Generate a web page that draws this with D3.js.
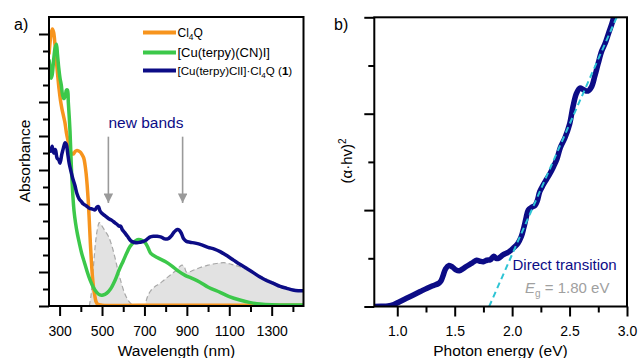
<!DOCTYPE html>
<html><head><meta charset="utf-8">
<script src="https://cdn.jsdelivr.net/npm/d3@7"></script>
<style>
body{margin:0;background:#fff}
svg{display:block;font-family:"Liberation Sans",Arial,sans-serif}
</style>
</head><body>
<svg id="c" width="638" height="358"></svg>
<script>
// ---------- Panel a data (wavelength nm, absorbance a.u.) ----------
const cl4qSeries = [[250,1.48],[255,1.55],[260,1.60],[266,1.63],[272,1.61],[278,1.54],[284,1.45],[290,1.37],[297,1.28],[304,1.21],[311,1.16],[318,1.12],[325,1.08],[332,1.02],[340,0.97],[349,0.92],[358,0.895],[366,0.895],[374,0.91],[382,0.915],[390,0.912],[398,0.905],[406,0.89],[414,0.87],[420,0.83],[425,0.78],[430,0.71],[435,0.62],[440,0.5],[445,0.37],[450,0.26],[455,0.17],[460,0.11],[466,0.06],[472,0.025],[480,0.01],[500,0.005],[800,0.005],[1450,0.005]];
const cuCNISeries = [[250,1.45],[255,1.40],[260,1.34],[265,1.36],[272,1.45],[279,1.52],[285,1.54],[290,1.48],[296,1.40],[302,1.34],[308,1.30],[314,1.24],[320,1.22],[326,1.23],[332,1.27],[337,1.27],[341,1.20],[345,1.12],[349,1.03],[353,0.9],[357,0.77],[362,0.66],[368,0.56],[375,0.49],[383,0.43],[393,0.37],[404,0.31],[416,0.26],[428,0.21],[443,0.155],[459,0.11],[475,0.08],[490,0.065],[505,0.065],[522,0.075],[540,0.1],[561,0.15],[580,0.21],[600,0.265],[616,0.31],[632,0.35],[650,0.375],[667,0.39],[680,0.39],[695,0.38],[705,0.37],[718,0.34],[730,0.31],[760,0.285],[800,0.26],[830,0.235],[860,0.205],[892,0.18],[920,0.165],[962,0.14],[1001,0.11],[1057,0.08],[1100,0.055],[1150,0.035],[1200,0.02],[1245,0.012],[1300,0.008],[1450,0.006]];
const compound1Series = [[250,0.93],[258,0.91],[265,0.94],[272,0.90],[280,0.92],[288,0.87],[296,0.86],[302,0.84],[310,0.89],[318,0.93],[326,0.96],[332,0.95],[338,0.90],[345,0.84],[354,0.79],[362,0.75],[372,0.71],[382,0.66],[392,0.63],[402,0.615],[412,0.60],[425,0.59],[440,0.575],[455,0.57],[467,0.565],[475,0.58],[483,0.585],[490,0.56],[499,0.545],[515,0.53],[530,0.515],[545,0.505],[560,0.49],[573,0.478],[580,0.47],[588,0.47],[595,0.45],[608,0.43],[620,0.41],[635,0.385],[650,0.375],[665,0.372],[680,0.375],[695,0.38],[710,0.39],[725,0.405],[742,0.41],[760,0.41],[780,0.405],[795,0.395],[810,0.395],[825,0.41],[840,0.435],[855,0.45],[865,0.445],[875,0.425],[885,0.395],[898,0.38],[915,0.375],[940,0.37],[970,0.36],[1000,0.345],[1030,0.335],[1057,0.32],[1090,0.295],[1120,0.27],[1150,0.245],[1183,0.22],[1215,0.195],[1245,0.17],[1275,0.15],[1308,0.133],[1340,0.115],[1371,0.104],[1400,0.094],[1425,0.09],[1450,0.09]];
const diffSeries = [[440,0],[448,0.06],[455,0.16],[462,0.27],[470,0.38],[478,0.45],[487,0.49],[495,0.48],[505,0.46],[515,0.44],[530,0.41],[545,0.36],[560,0.29],[575,0.21],[590,0.14],[605,0.08],[620,0.04],[635,0.015],[648,0],[700,0],[708,0.03],[716,0.06],[730,0.09],[750,0.115],[770,0.13],[790,0.15],[810,0.17],[830,0.19],[850,0.21],[865,0.23],[878,0.24],[888,0.23],[898,0.2],[910,0.2],[930,0.21],[960,0.225],[1000,0.24],[1040,0.25],[1075,0.255],[1110,0.245],[1140,0.235],[1180,0.215],[1214,0.2],[1250,0.175],[1293,0.15],[1330,0.125],[1371,0.104],[1400,0.094],[1434,0.085],[1450,0.083]];
const arrowWavelengths = [530, 880];
const arrowFrom = 0.996, arrowTo = 0.606;
const xTicksA = [300,500,700,900,1100,1300];
const xMinorA = [400,600,800,1000,1200,1400];
const yMajorA = [0,0.2,0.4,0.6,0.8,1.0,1.2,1.4,1.6];
const yMinorA = [0.1,0.3,0.5,0.7,0.9,1.1,1.3,1.5];

// ---------- Panel b data (photon energy eV, (alpha h nu)^2 a.u.) ----------
const taucSeries = [[0.80,0],[0.86,0.003],[0.92,0.01],[0.97,0.04],[1.02,0.1],[1.08,0.17],[1.14,0.24],[1.20,0.31],[1.26,0.38],[1.31,0.43],[1.36,0.48],[1.38,0.53],[1.40,0.65],[1.42,0.78],[1.45,0.85],[1.48,0.82],[1.51,0.76],[1.54,0.74],[1.57,0.78],[1.60,0.83],[1.65,0.9],[1.69,0.96],[1.72,0.94],[1.75,0.93],[1.78,0.96],[1.81,0.97],[1.84,1.04],[1.86,1.0],[1.88,1.0],[1.92,1.07],[1.97,1.13],[2.01,1.21],[2.05,1.31],[2.08,1.45],[2.10,1.62],[2.12,1.82],[2.14,2.0],[2.17,2.06],[2.20,2.1],[2.22,2.2],[2.24,2.38],[2.27,2.52],[2.30,2.64],[2.33,2.76],[2.36,2.9],[2.39,3.06],[2.42,3.3],[2.46,3.5],[2.50,3.78],[2.53,4.15],[2.56,4.42],[2.59,4.53],[2.62,4.5],[2.66,4.47],[2.69,4.55],[2.72,4.78],[2.75,5.05],[2.78,5.3],[2.81,5.46],[2.84,5.67],[2.87,5.88],[2.89,6.05]];
const fitLine = [[1.80,0],[2.91,6.0]];
const xTicksB = [1.0,1.5,2.0,2.5,3.0];
const xMinorB = [1.25,1.75,2.25,2.75];
const yMajorB = [0,2,4,6];
const yMinorB = [1,3,5];

const C = {orange:"#f7941d", green:"#3cc84a", navy:"#0c0c86", gray:"#9a9a9a", fill:"#e2e2e2", cyan:"#2ec4d4"};

const svg = d3.select("#c");
const defs = svg.append("defs");
defs.append("marker").attr("id","ah").attr("viewBox","0 0 10 10").attr("refX",10).attr("refY",5)
  .attr("markerWidth",6).attr("markerHeight",6).attr("markerUnits","strokeWidth").attr("orient","auto")
  .append("path").attr("d","M0,0L10,5L0,10Z").attr("fill",C.gray);

function frame(g, x, y){
  const [x0,x1]=x.range(), [y0,y1]=y.range();
  g.append("rect").attr("x",x0).attr("y",y1).attr("width",x1-x0).attr("height",y0-y1)
    .attr("fill","none").attr("stroke","#000").attr("stroke-width",2);
}
function axes(g, x, y, xt, xm, ym, yn){
  const [y0]=y.range(), [x0]=x.range();
  const ax = g.append("g").attr("transform",`translate(0,${y0})`)
    .call(d3.axisBottom(x).tickValues(xt).tickSize(10).tickPadding(10).tickFormat(d=>x.domain()[0]<10?d3.format(".1f")(d):d));
  ax.select(".domain").remove();
  ax.selectAll("line").attr("stroke-width",2);
  ax.selectAll("text").attr("font-size",14).attr("fill","#000").attr("font-family","Liberation Sans, Arial, sans-serif");
  const am = g.append("g").attr("transform",`translate(0,${y0})`).call(d3.axisBottom(x).tickValues(xm).tickSize(6).tickFormat(""));
  am.select(".domain").remove(); am.selectAll("line").attr("stroke-width",2);
  const ay = g.append("g").attr("transform",`translate(${x0},0)`).call(d3.axisLeft(y).tickValues(ym).tickSize(10).tickFormat(""));
  ay.select(".domain").remove(); ay.selectAll("line").attr("stroke-width",2);
  const an = g.append("g").attr("transform",`translate(${x0},0)`).call(d3.axisLeft(y).tickValues(yn).tickSize(6).tickFormat(""));
  an.select(".domain").remove(); an.selectAll("line").attr("stroke-width",2);
}

// ---------- Panel a ----------
const xA = d3.scaleLinear([250,1450],[49,303.5]);
const yA = d3.scaleLinear([0,1.7],[306,17]);
const gA = svg.append("g");
defs.append("clipPath").attr("id","clipA").append("rect").attr("x",49).attr("y",17).attr("width",254.5).attr("height",289);
const pA = gA.append("g").attr("clip-path","url(#clipA)");
const lineA = d3.line().x(d=>xA(d[0])).y(d=>yA(d[1])).curve(d3.curveCatmullRom);
pA.append("path").datum(diffSeries).attr("d",d3.area().x(d=>xA(d[0])).y0(yA(0)).y1(d=>yA(d[1])).curve(d3.curveCatmullRom)).attr("fill",C.fill);
pA.append("path").datum(diffSeries).attr("d",lineA).attr("fill","none").attr("stroke","#a8a8a8").attr("stroke-width",1.2).attr("stroke-dasharray","5,3");
arrowWavelengths.forEach(w=>{
  gA.append("line").attr("x1",xA(w)).attr("x2",xA(w)).attr("y1",yA(arrowFrom)).attr("y2",yA(arrowTo))
    .attr("stroke",C.gray).attr("stroke-width",1.6).attr("marker-end","url(#ah)");
});
pA.append("path").datum(cl4qSeries).attr("d",lineA).attr("fill","none").attr("stroke",C.orange).attr("stroke-width",3.5).attr("stroke-linejoin","round");
pA.append("path").datum(cuCNISeries).attr("d",lineA).attr("fill","none").attr("stroke",C.green).attr("stroke-width",3.5).attr("stroke-linejoin","round");
pA.append("path").datum(compound1Series).attr("d",lineA).attr("fill","none").attr("stroke",C.navy).attr("stroke-width",3.5).attr("stroke-linejoin","round");
frame(gA,xA,yA);
axes(gA,xA,yA,xTicksA,xMinorA,yMajorA,yMinorA);

// legend
const leg = gA.append("g");
const legItems = [
  {c:C.orange, y:32.5, fs:12, parts:[["Cl",""],["4","sub"],["Q",""]]},
  {c:C.green, y:52.5, fs:13, parts:[["[Cu(terpy)(CN)I]",""]]},
  {c:C.navy, y:70.5, fs:11.6, parts:[["[Cu(terpy)ClI]·Cl",""],["4","sub"],["Q (",""],["1","bold"],[")",""]]}
];
legItems.forEach(it=>{
  leg.append("line").attr("x1",143).attr("x2",176).attr("y1",it.y).attr("y2",it.y).attr("stroke",it.c).attr("stroke-width",4);
  const t = leg.append("text").attr("x",177.5).attr("y",it.y+4.5).attr("font-size",it.fs).attr("fill","#000");
  let sub=false;
  it.parts.forEach(p=>{
    const s = t.append("tspan").text(p[0]);
    if(p[1]==="sub"){ s.attr("font-size",it.fs*0.7).attr("dy",3); sub=true; }
    else { if(sub){ s.attr("dy",-3); sub=false; } if(p[1]==="bold") s.attr("font-weight","bold"); }
  });
});
gA.append("text").attr("x",146).attr("y",127.5).attr("text-anchor","middle").attr("font-size",15.5).attr("fill",C.navy).text("new bands");
gA.append("text").attr("x",14).attr("y",30).attr("font-size",16).text("a)");
gA.append("text").attr("transform","translate(30,161) rotate(-90)").attr("text-anchor","middle").attr("font-size",15.5).text("Absorbance");
gA.append("text").attr("x",176.5).attr("y",356).attr("text-anchor","middle").attr("font-size",15.5).text("Wavelength (nm)");

// ---------- Panel b ----------
const xB = d3.scaleLinear([0.8,3.0],[374.3,627]);
const yB = d3.scaleLinear([0,6],[306.5,17.3]);
const gB = svg.append("g");
defs.append("clipPath").attr("id","clipB").append("rect").attr("x",374.3).attr("y",17.3).attr("width",252.7).attr("height",289.2);
const pB = gB.append("g").attr("clip-path","url(#clipB)");
const lineB = d3.line().x(d=>xB(d[0])).y(d=>yB(d[1])).curve(d3.curveCatmullRom);
pB.append("path").datum(taucSeries).attr("d",lineB).attr("fill","none").attr("stroke",C.navy).attr("stroke-width",5.5).attr("stroke-linejoin","round").attr("stroke-linecap","round");
pB.append("path").datum(fitLine).attr("d",d3.line().x(d=>xB(d[0])).y(d=>yB(d[1]))).attr("fill","none").attr("stroke",C.cyan).attr("stroke-width",2).attr("stroke-dasharray","6,4");
frame(gB,xB,yB);
axes(gB,xB,yB,xTicksB,xMinorB,yMajorB,yMinorB);
gB.append("text").attr("x",334).attr("y",30).attr("font-size",16).text("b)");
const yl = gB.append("text").attr("transform","translate(352,161) rotate(-90)").attr("text-anchor","middle").attr("font-size",15);
yl.append("tspan").text("(α·hv)");
yl.append("tspan").attr("dy",-6).attr("font-size",10).text("2");
gB.append("text").attr("x",500.5).attr("y",356).attr("text-anchor","middle").attr("font-size",15.5).text("Photon energy (eV)");
gB.append("text").attr("x",512.5).attr("y",270).attr("font-size",15).attr("fill",C.navy).text("Direct transition");
const eg = gB.append("text").attr("x",525).attr("y",293).attr("font-size",15).attr("fill","#a0a0a0");
eg.append("tspan").attr("font-style","italic").text("E");
eg.append("tspan").attr("dy",4).attr("font-size",10).text("g");
eg.append("tspan").attr("dy",-4).text(" = 1.80 eV");
</script>
</body></html>
